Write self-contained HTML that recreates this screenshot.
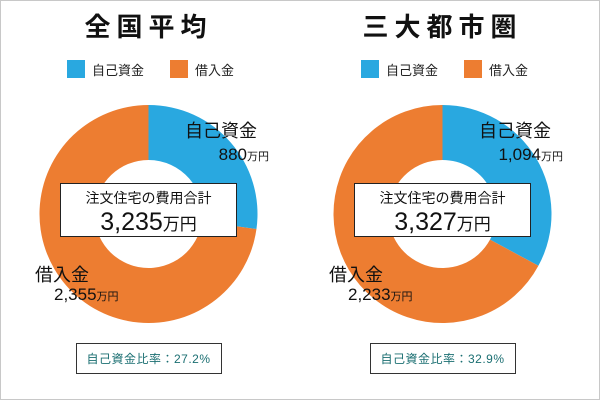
<!DOCTYPE html>
<html><head><meta charset="utf-8">
<style>
body{margin:0;width:600px;height:400px;overflow:hidden;background:#fff;font-family:"Liberation Sans","Noto Sans CJK JP",sans-serif;}
#frame{position:absolute;left:0;top:0;width:598px;height:398px;border:1px solid #c8c8c8;}
svg{position:absolute;left:0;top:0}
</style></head>
<body>
<div id="frame"></div>
<svg width="600" height="400" id="chart"></svg>
<script>
const titles=["全国平均","三大都市圏"];
const ownFunds=[880,1094];
const loans=[2355,2233];
const totals=["3,235","3,327"];
const ownLabels=["880","1,094"];
const loanLabels=["2,355","2,233"];
const ratios=["27.2%","32.9%"];
const NS="http://www.w3.org/2000/svg";
const svg=document.getElementById('chart');
function mk(t,a,p){const e=document.createElementNS(NS,t);for(const k in a)e.setAttribute(k,a[k]);(p||svg).appendChild(e);return e;}
function pt(cx,cy,r,f){const a=f*2*Math.PI-Math.PI/2;return [cx+r*Math.cos(a),cy+r*Math.sin(a)];}
function arc(cx,cy,R,r,f0,f1){
  const [x0,y0]=pt(cx,cy,R,f0),[x1,y1]=pt(cx,cy,R,f1),[x2,y2]=pt(cx,cy,r,f1),[x3,y3]=pt(cx,cy,r,f0);
  const lg=(f1-f0)>0.5?1:0;
  return `M${x0},${y0}A${R},${R} 0 ${lg} 1 ${x1},${y1}L${x2},${y2}A${r},${r} 0 ${lg} 0 ${x3},${y3}Z`;
}
for(let i=0;i<2;i++){
  const ox=i*294, cx=148.5+ox, cy=214, R=109, r=54;
  const g=mk('g',{});
  
  
  let t=mk('text',{x:cx,y:36,'text-anchor':'middle','font-size':26,'font-weight':'bold','letter-spacing':6,fill:'#111'},g);
  t.textContent=titles[i];
  
  
  // legend
  let s=mk('rect',{x:67+ox,y:60,width:18,height:18,fill:'#29a8e0'},g);
  
  
  t=mk('text',{x:92+ox,y:75,'font-size':13,fill:'#222'},g);t.textContent="自己資金";
  
  
  s=mk('rect',{x:170+ox,y:60,width:18,height:18,fill:'#ed7d31'},g);
  
  
  t=mk('text',{x:195+ox,y:75,'font-size':13,fill:'#222'},g);t.textContent="借入金";
  
  
  const tot=ownFunds[i]+loans[i], f=ownFunds[i]/tot;
  let p=mk('path',{d:arc(cx,cy,R,r,0,f),fill:'#29a8e0'},g);
  
  
  p=mk('path',{d:arc(cx,cy,R,r,f,0.99999),fill:'#ed7d31'},g);
  
  
  t=mk('text',{x:257+ox,y:137,'text-anchor':'end','font-size':18,fill:'#111'},g);t.textContent="自己資金";
  
  
  t=mk('text',{x:269+ox,y:160,'text-anchor':'end','font-size':17,fill:'#111'},g);
  t.innerHTML=ownLabels[i]+'<tspan font-size="11">万円</tspan>';
  
  
  t=mk('text',{x:35+ox,y:281,'font-size':18,fill:'#111'},g);t.textContent="借入金";
  
  
  t=mk('text',{x:54+ox,y:300,'font-size':17,fill:'#111'},g);
  t.innerHTML=loanLabels[i]+'<tspan font-size="11">万円</tspan>';
  
  
  const b=mk('rect',{x:60.5+ox,y:183.5,width:176,height:53,fill:'#fff',stroke:'#222','stroke-width':1},g);
  
  
  t=mk('text',{x:cx,y:203,'text-anchor':'middle','font-size':14,fill:'#111'},g);t.textContent="注文住宅の費用合計";
  
  
  t=mk('text',{x:cx,y:230,'text-anchor':'middle','font-size':25,fill:'#111'},g);
  t.innerHTML=totals[i]+'<tspan font-size="17">万円</tspan>';
  
  
  const rb=mk('rect',{x:76.5+ox,y:343.5,width:145,height:30,fill:'#fff',stroke:'#333','stroke-width':1},g);
  
  
  t=mk('text',{x:cx,y:363,'text-anchor':'middle','font-size':12,fill:'#1b6f72','letter-spacing':0.5},g);
  t.textContent="自己資金比率："+ratios[i];
  
  
}
</script>
</body></html>
